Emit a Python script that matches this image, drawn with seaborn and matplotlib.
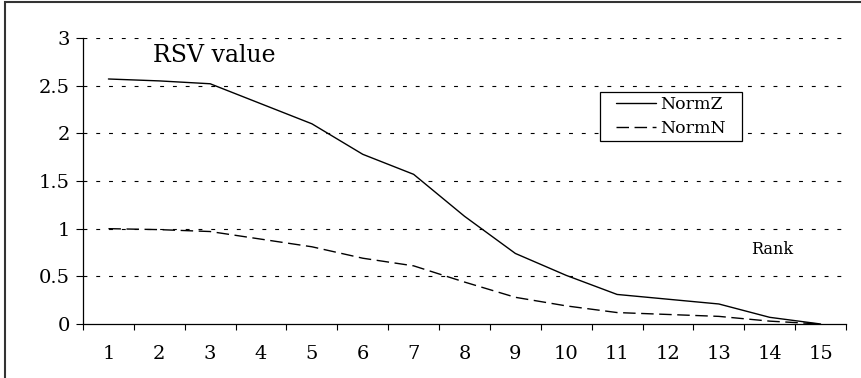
import pandas as pd
import matplotlib.pyplot as plt
import seaborn as sns
from matplotlib.patches import Rectangle

# Data
ranks = list(range(1, 16))
norm_z = [2.57, 2.55, 2.52, 2.31, 2.10, 1.78, 1.57, 1.13, 0.74, 0.51, 0.31, 0.26, 0.21, 0.07, 0.0]
norm_n = [1.00, 0.99, 0.97, 0.89, 0.81, 0.69, 0.61, 0.44, 0.28, 0.19, 0.12, 0.10, 0.08, 0.03, 0.0]
y_ticks = [0, 0.5, 1, 1.5, 2, 2.5, 3]
y_labels = ['0', '0.5', '1', '1.5', '2', '2.5', '3']

df = pd.DataFrame({
    'Rank': ranks * 2,
    'RSV': norm_z + norm_n,
    'series': ['NormZ'] * 15 + ['NormN'] * 15,
})

sns.set_theme(style="white")
plt.rcParams['font.family'] = ['DejaVu Serif', 'Liberation Serif']
plt.rcParams['text.color'] = 'black'
plt.rcParams['xtick.color'] = 'black'
plt.rcParams['ytick.color'] = 'black'

W, H = 862, 378
fig = plt.figure(figsize=(W / 100, H / 100), dpi=100)
ax = fig.add_axes([83 / W, 1 - 324 / H, (846 - 83) / W, (324 - 38) / H])

sns.lineplot(data=df, x='Rank', y='RSV', style='series', color='black',
             dashes={'NormZ': '', 'NormN': (9, 4)}, linewidth=1.0, ax=ax)

# dotted gridlines
for y in y_ticks[1:]:
    ax.axhline(y, xmax=0.996, color='black', linewidth=0.8, linestyle=(0, (3.5, 8)), zorder=0)

ax.set_xlim(0.5, 15.5)
ax.set_ylim(0, 3)
ax.set_xticks(ranks)
ax.set_xticklabels([str(r) for r in ranks], fontsize=14)
ax.set_xticks([r + 0.5 for r in range(0, 16)], minor=True)
ax.set_yticks(y_ticks)
ax.set_yticklabels(y_labels, fontsize=14)
ax.tick_params(axis='x', which='major', length=0, pad=15)
ax.tick_params(axis='x', which='minor', length=4, width=0.8, direction='out', bottom=True)
ax.tick_params(axis='y', length=5, width=0.8, direction='out', left=True, pad=4.3)
ax.set_xlabel('')
ax.set_ylabel('')

for side in ['top', 'right']:
    ax.spines[side].set_visible(False)
for side in ['left', 'bottom']:
    ax.spines[side].set_color('black')
    ax.spines[side].set_linewidth(0.9)

ax.text(153 / W, 1 - 55 / H, 'RSV value', transform=fig.transFigure, fontsize=17, va='center', ha='left')
ax.text(751 / W, 1 - 250 / H, 'Rank', transform=fig.transFigure, fontsize=11.5, va='center', ha='left')

# legend with a hand-placed frame
leg = ax.legend(loc='upper left', bbox_to_anchor=(616 / W, 1 - 96 / H), bbox_transform=fig.transFigure,
                borderaxespad=0, borderpad=0, fontsize=12.5, frameon=False,
                handlelength=2.3, handletextpad=0.25, labelspacing=0.4)
ax.add_patch(Rectangle((600 / W, 1 - 141 / H), 142 / W, 49 / H, transform=fig.transFigure,
                       fill=True, facecolor='white', edgecolor='black', linewidth=0.9, zorder=4))
leg.set_zorder(5)

# outer figure border (left and top visible)
fig.patches.append(Rectangle((5 / W, -0.1), 1.2, 1.1 - 2 / H, transform=fig.transFigure,
                             fill=False, edgecolor='#333333', linewidth=1.5))

fig.savefig('out.png', dpi=100)
